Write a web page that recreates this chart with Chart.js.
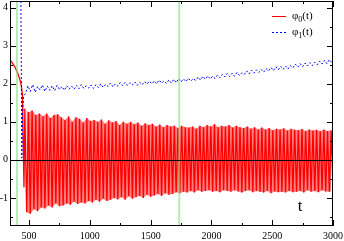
<!DOCTYPE html>
<html>
<head>
<meta charset="utf-8">
<script src="https://cdn.jsdelivr.net/npm/chart.js@4/dist/chart.umd.min.js"></script>
<style>
  html, body { margin: 0; padding: 0; background: #fff; }
  canvas { display: block; }
</style>
</head>
<body>
<canvas id="phi" width="344" height="241"></canvas>
<script>
// phi_0(t): slow decay, then the fast oscillation (maxima and minima alternate)
const t0 = [
  343, 360, 380, 400, 420, 435, 445, 452, 458,
  465, 480, 495, 510, 525, 540, 555, 570, 585, 600,
  615, 630, 645, 660, 675, 690, 705, 720, 735, 750,
  765, 780, 795, 810, 825, 840, 855, 870, 885, 900,
  915, 930, 945, 960, 975, 990, 1005, 1020, 1035, 1050,
  1065, 1080, 1095, 1110, 1125, 1140, 1155, 1170, 1185, 1200,
  1215, 1230, 1245, 1260, 1275, 1290, 1305, 1320, 1335, 1350,
  1365, 1380, 1395, 1410, 1425, 1440, 1455, 1470, 1485, 1500,
  1515, 1530, 1545, 1560, 1575, 1590, 1605, 1620, 1635, 1650,
  1665, 1680, 1695, 1710, 1725, 1740, 1755, 1770, 1785, 1800,
  1815, 1830, 1845, 1860, 1875, 1890, 1905, 1920, 1935, 1950,
  1965, 1980, 1995, 2010, 2025, 2040, 2055, 2070, 2085, 2100,
  2115, 2130, 2145, 2160, 2175, 2190, 2205, 2220, 2235, 2250,
  2265, 2280, 2295, 2310, 2325, 2340, 2355, 2370, 2385, 2400,
  2415, 2430, 2445, 2460, 2475, 2490, 2505, 2520, 2535, 2550,
  2565, 2580, 2595, 2610, 2625, 2640, 2655, 2670, 2685, 2700,
  2715, 2730, 2745, 2760, 2775, 2790, 2805, 2820, 2835, 2850,
  2865, 2880, 2895, 2910, 2925, 2940, 2955, 2970, 2985, 3000
];
const phi0 = [
  2.63, 2.56, 2.46, 2.33, 2.16, 1.98, 1.72, 0.4, -0.72,
  1.35, -1.38, 1.25, -1.42, 1.3, -1.3, 1.18, -1.35, 1.22, -1.25,
  1.15, -1.28, 1.22, -1.2, 1.1, -1.25, 1.18, -1.15, 1.2, -1.22,
  1.12, -1.2, 1.05, -1.15, 1.15, -1.18, 1.0, -1.1, 1.12, -1.16,
  1.08, -1.12, 0.98, -1.15, 1.1, -1.08, 1.02, -1.12, 1.05, -1.05,
  1.0, -1.1, 1.06, -1.02, 0.95, -1.08, 1.04, -1.05, 0.98, -1.0,
  1.02, -1.04, 0.92, -0.98, 1.0, -1.05, 0.95, -0.96, 1.0, -1.02,
  0.94, -0.98, 0.98, -0.95, 0.9, -1.0, 0.96, -0.92, 0.92, -0.97,
  0.95, -0.94, 0.88, -0.9, 0.93, -0.95, 0.86, -0.88, 0.92, -0.92,
  0.88, -0.9, 0.9, -0.85, 0.84, -0.88, 0.9, -0.84, 0.86, -0.86,
  0.85, -0.82, 0.88, -0.86, 0.82, -0.8, 0.9, -0.84, 0.86, -0.82,
  0.92, -0.8, 0.88, -0.84, 0.94, -0.82, 0.86, -0.85, 0.9, -0.8,
  0.88, -0.82, 0.92, -0.84, 0.85, -0.8, 0.9, -0.83, 0.86, -0.86,
  0.84, -0.82, 0.88, -0.8, 0.82, -0.85, 0.86, -0.82, 0.8, -0.84,
  0.85, -0.86, 0.8, -0.82, 0.84, -0.88, 0.78, -0.83, 0.82, -0.85,
  0.8, -0.84, 0.83, -0.86, 0.77, -0.82, 0.82, -0.85, 0.79, -0.84,
  0.78, -0.82, 0.81, -0.86, 0.76, -0.8, 0.8, -0.84, 0.77, -0.82,
  0.79, -0.85, 0.75, -0.8, 0.8, -0.83, 0.76, -0.84, 0.78, -0.8
];
const oscStart = 9;   // index in t0 where the fast oscillation begins

// phi_1(t): drops in from above, then a noisy slowly rising band
const t1 = [
  432, 440, 447, 455,
  470, 490, 510, 530, 550, 570, 590, 610, 630, 650,
  670, 690, 710, 730, 750, 770, 790, 810, 830, 850,
  870, 890, 910, 930, 950, 970, 990, 1010, 1030, 1050,
  1070, 1090, 1110, 1130, 1150, 1170, 1190, 1210, 1230, 1250,
  1270, 1290, 1310, 1330, 1350, 1370, 1390, 1410, 1430, 1450,
  1470, 1490, 1510, 1530, 1550, 1570, 1590, 1610, 1630, 1650,
  1670, 1690, 1710, 1730, 1750, 1770, 1790, 1810, 1830, 1850,
  1870, 1890, 1910, 1930, 1950, 1970, 1990, 2010, 2030, 2050,
  2070, 2090, 2110, 2130, 2150, 2170, 2190, 2210, 2230, 2250,
  2270, 2290, 2310, 2330, 2350, 2370, 2390, 2410, 2430, 2450,
  2470, 2490, 2510, 2530, 2550, 2570, 2590, 2610, 2630, 2650,
  2670, 2690, 2710, 2730, 2750, 2770, 2790, 2810, 2830, 2850,
  2870, 2890, 2910, 2930, 2950, 2970, 2990
];
const phi1 = [
  4.6, 0.05, 1.2, 1.68,
  1.74, 1.95, 1.8, 1.98, 1.78, 1.93, 1.84, 1.97, 1.8, 1.94,
  1.83, 1.95, 1.82, 1.96, 1.85, 1.93, 1.83, 1.95, 1.86, 1.94,
  1.86, 1.96, 1.87, 1.98, 1.88, 1.95, 1.89, 1.97, 1.88, 1.98,
  1.9, 2.0, 1.91, 1.99, 1.93, 2.02, 1.92, 2.0, 1.94, 2.03,
  1.95, 2.04, 1.96, 2.03, 1.97, 2.05, 1.96, 2.04, 1.98, 2.06,
  1.99, 2.07, 2.0, 2.08, 2.0, 2.1, 2.02, 2.08, 2.01, 2.1,
  2.02, 2.12, 2.03, 2.14, 2.05, 2.13, 2.06, 2.15, 2.07, 2.14,
  2.09, 2.18, 2.1, 2.2, 2.12, 2.21, 2.13, 2.2, 2.14, 2.23,
  2.16, 2.25, 2.18, 2.27, 2.19, 2.28, 2.2, 2.3, 2.22, 2.29,
  2.25, 2.34, 2.26, 2.36, 2.28, 2.37, 2.3, 2.38, 2.31, 2.4,
  2.34, 2.43, 2.35, 2.45, 2.37, 2.46, 2.38, 2.47, 2.39, 2.48,
  2.42, 2.52, 2.44, 2.53, 2.45, 2.55, 2.47, 2.56, 2.48, 2.57,
  2.5, 2.6, 2.52, 2.62, 2.53, 2.64, 2.56
];

const xTicks = [500, 1000, 1500, 2000, 2500, 3000];
const xMinor = [750, 1250, 1750, 2250, 2750];
const yTicks = [-1, 0, 1, 2, 3, 4];
const yMinor = [-1.5, -0.5, 0.5, 1.5, 2.5, 3.5];
const markers = [400, 1735];   // green vertical lines
const legendItems = [
  { sub: '0', color: 'rgb(255,0,0)', dash: [] },
  { sub: '1', color: 'rgb(0,0,255)', dash: [2, 2] }
];

const SERIF = '"Liberation Serif", "Times New Roman", serif';

// maxima and minima of the oscillation, used for the light red envelope
const phi0Pts = t0.map((t, i) => ({ x: t, y: phi0[i] }));
const upper = phi0Pts.filter((p, i) => i >= oscStart && (i - oscStart) % 2 === 0);
const lower = phi0Pts.filter((p, i) => i >= oscStart && (i - oscStart) % 2 === 1);

const frame = {
  id: 'frame',
  afterDatasetsDraw(chart) {
    const { ctx, chartArea: a, scales: { x, y } } = chart;
    ctx.save();

    // green markers
    ctx.strokeStyle = 'rgba(130,225,130,0.6)';
    ctx.lineWidth = 2;
    markers.forEach(m => {
      const px = x.getPixelForValue(m);
      ctx.beginPath();
      ctx.moveTo(px, a.top);
      ctx.lineTo(px, a.bottom);
      ctx.stroke();
    });

    // zero line
    ctx.strokeStyle = '#000';
    ctx.lineWidth = 1;
    const zy = Math.round(y.getPixelForValue(0)) + 0.5;
    ctx.beginPath();
    ctx.moveTo(a.left, zy);
    ctx.lineTo(a.right, zy);
    ctx.stroke();

    // box
    ctx.strokeRect(a.left + 0.5, a.top + 0.5, a.right - a.left - 1, a.bottom - a.top - 1);

    // inward ticks on all four sides
    const tick = (v, len, vertical) => {
      if (vertical) {
        const px = Math.round(x.getPixelForValue(v)) + 0.5;
        ctx.beginPath();
        ctx.moveTo(px, a.bottom); ctx.lineTo(px, a.bottom - len);
        ctx.moveTo(px, a.top); ctx.lineTo(px, a.top + len);
        ctx.stroke();
      } else {
        const py = Math.round(y.getPixelForValue(v)) + 0.5;
        ctx.beginPath();
        ctx.moveTo(a.left, py); ctx.lineTo(a.left + len, py);
        ctx.moveTo(a.right, py); ctx.lineTo(a.right - len, py);
        ctx.stroke();
      }
    };
    xTicks.forEach(v => tick(v, 6, true));
    xMinor.forEach(v => tick(v, 3, true));
    yTicks.forEach(v => tick(v, 6, false));
    yMinor.forEach(v => tick(v, 3, false));

    // legend
    ctx.textBaseline = 'middle';
    legendItems.forEach((it, i) => {
      const ly = 16.5 + i * 16;
      ctx.strokeStyle = it.color;
      ctx.setLineDash(it.dash);
      ctx.beginPath();
      ctx.moveTo(272, ly); ctx.lineTo(286, ly);
      ctx.stroke();
      ctx.setLineDash([]);
      ctx.fillStyle = '#000';
      ctx.font = '11px ' + SERIF;
      let lx = 292;
      ctx.fillText('\u03c6', lx, ly);
      lx += ctx.measureText('\u03c6').width;
      ctx.font = '8px ' + SERIF;
      ctx.fillText(it.sub, lx, ly + 3);
      lx += ctx.measureText(it.sub).width;
      ctx.font = '11px ' + SERIF;
      ctx.fillText('(t)', lx, ly);
    });

    // axis name inside the plot
    ctx.font = '17px ' + SERIF;
    ctx.textAlign = 'center';
    ctx.fillText('t', 300, 207);

    ctx.restore();
  }
};

new Chart(document.getElementById('phi'), {
  type: 'line',
  data: {
    datasets: [
      {
        label: 'phi0',
        data: phi0Pts,
        borderColor: 'rgb(255,0,0)',
        borderWidth: 1.3,
        pointRadius: 0,
        tension: 0,
        order: 1
      },
      {
        label: 'phi1',
        data: t1.map((t, i) => ({ x: t, y: phi1[i] })),
        borderColor: 'rgb(0,0,255)',
        borderWidth: 1,
        borderDash: [2, 2],
        pointRadius: 0,
        tension: 0,
        order: 0
      },
      {
        label: 'phi0 minima',
        data: lower,
        borderWidth: 0,
        pointRadius: 0,
        tension: 0,
        fill: false,
        order: 3
      },
      {
        label: 'phi0 maxima',
        data: upper,
        borderWidth: 0,
        pointRadius: 0,
        tension: 0,
        fill: '-1',
        backgroundColor: 'rgba(255,0,0,0.5)',
        order: 2
      }
    ]
  },
  options: {
    responsive: false,
    animation: false,
    devicePixelRatio: 1,
    layout: { padding: { top: 1, right: 11, left: 0, bottom: 0 } },
    plugins: { legend: { display: false }, tooltip: { enabled: false } },
    scales: {
      x: {
        type: 'linear',
        min: 343,
        max: 3000,
        grid: { display: false, drawTicks: false },
        border: { display: false },
        afterBuildTicks: s => { s.ticks = xTicks.map(v => ({ value: v })); },
        afterFit: s => { s.height = 15; s.paddingLeft = 0; s.paddingRight = 0; },
        ticks: {
          autoSkip: false,
          maxRotation: 0,
          padding: 4,
          color: '#000',
          font: { family: SERIF, size: 10 },
          callback: v => String(v)
        }
      },
      y: {
        min: -1.74,
        max: 4.18,
        grid: { display: false, drawTicks: false },
        border: { display: false },
        afterBuildTicks: s => { s.ticks = yTicks.map(v => ({ value: v })); },
        afterFit: s => { s.width = 10; s.paddingTop = 0; s.paddingBottom = 0; },
        ticks: {
          padding: 2,
          color: '#000',
          font: { family: SERIF, size: 10 },
          callback: v => String(v)
        }
      }
    }
  },
  plugins: [frame]
});
</script>
</body>
</html>
